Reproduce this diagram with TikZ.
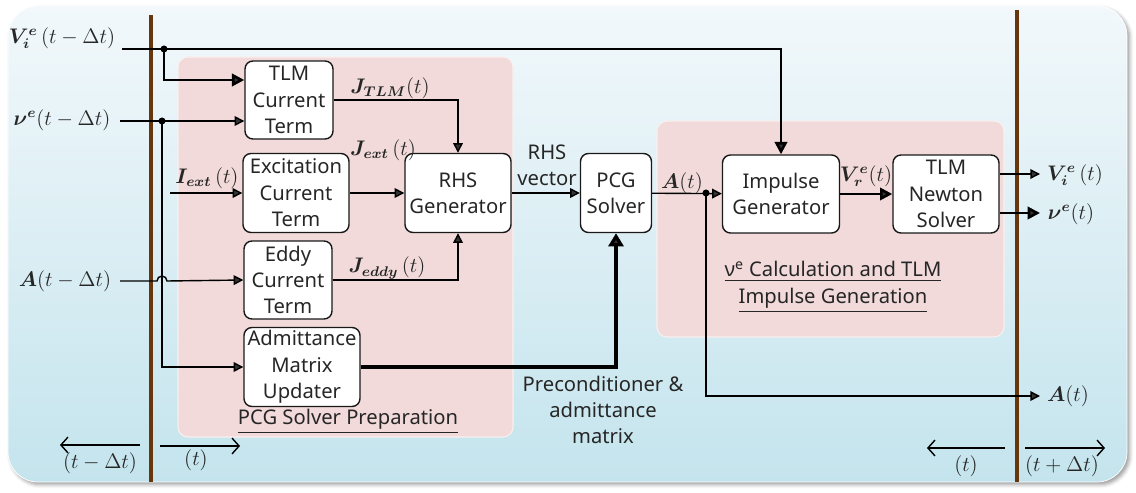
\documentclass[tikz,border=0pt]{standalone}
\usepackage{amsmath}
\usepackage{bm}
\usepackage[no-math]{fontspec}
\setmainfont{Noto Sans}
\usetikzlibrary{arrows.meta,shadows.blur}
\definecolor{bgtop}{RGB}{242,248,251}
\definecolor{bgmid}{RGB}{176,218,230}
\definecolor{bgbot}{RGB}{196,228,237}
\definecolor{grp}{RGB}{241,218,217}
\definecolor{axis}{RGB}{104,54,12}

\begin{document}
\begin{tikzpicture}[x=0.2mm, y=-0.2mm,
    every node/.style={font=\fontsize{11.5}{15}\selectfont, text=black!85},
    blk/.style={draw=black!90, line width=0.8pt, fill=white, rounded corners=1.6mm, align=center, inner sep=1pt},
    lbl/.style={inner sep=0.5pt},
    sig/.style={line width=0.8pt, -{Triangle[length=5.5pt,width=5.5pt]}},
    sigbold/.style={line width=1.5pt, -{Triangle[length=7pt,width=7pt]}},
    sigheavy/.style={line width=2.6pt, -{Triangle[length=7.5pt,width=8.5pt]}},
    timearr/.style={line width=0.8pt, {Straight Barb[length=4pt,width=9pt]}-},
    grpbox/.style={fill=grp, draw=white!60!grp, line width=0.6pt, rounded corners=2mm}]
  \useasboundingbox (0,0) rectangle (1136,493);
  \path[blur shadow={shadow xshift=1.5pt, shadow yshift=-1.5pt}, top color=bgtop, middle color=bgmid, bottom color=bgbot,
    draw=white, rounded corners=6mm] (8,6) rectangle (1127,482);
  \path[grpbox] (178,57) rectangle (513,437);
  \path[grpbox] (657,121) rectangle (1004,337);
  \draw[axis, line width=2.2pt] (151,15) -- (151,482);
  \draw[axis, line width=2.2pt] (1017,10) -- (1017,482);

  \node[blk, minimum width=17.6mm, minimum height=15.6mm] (tlm) at (289,100) {TLM\\Current\\Term};
  \node[blk, minimum width=21.2mm, minimum height=15.8mm] (exc) at (296,193) {Excitation\\Current\\Term};
  \node[blk, minimum width=17.6mm, minimum height=15.6mm] (eddy) at (288,280) {Eddy\\Current\\Term};
  \node[blk, minimum width=23.2mm, minimum height=15.8mm] (adm) at (302,367) {Admittance\\Matrix\\Updater};
  \node[blk, minimum width=21.2mm, minimum height=15.8mm] (rhs) at (458,193) {RHS\\Generator};
  \node[blk, minimum width=14.2mm, minimum height=15.8mm] (pcg) at (616,193) {PCG\\Solver};
  \node[blk, minimum width=23.4mm, minimum height=15.6mm] (imp) at (781,194) {Impulse\\Generator};
  \node[blk, minimum width=21.2mm, minimum height=15.6mm] (tln) at (946,194) {TLM\\Newton\\Solver};

  \node[lbl] (vi0) at (62,38) {$\bm{V}^{\bm{e}}_{\bm{i}}\,(t-\Delta t)$};
  \node[lbl] (nu0) at (62,120) {$\bm{\nu}^{\bm{e}}(t-\Delta t)$};
  \node[lbl] (a0) at (65,281) {$\bm{A}(t-\Delta t)$};
  \node[lbl] (iex) at (207,178) {$\bm{I_{ext}}\,(t)$};
  \node[lbl] (jtlm) at (390,88) {$\bm{J_{TLM}}(t)$};
  \node[lbl] (jext) at (383,150) {$\bm{J_{ext}}\,(t)$};
  \node[lbl] (jeddy) at (387,268) {$\bm{J_{eddy}}\,(t)$};
  \node[align=center] (rhsv) at (547,165) {RHS\\vector};
  \node[lbl] (at) at (682,183) {$\bm{A}(t)$};
  \node[lbl] (vr) at (866,176) {$\bm{V}^{\bm{e}}_{\bm{r}}(t)$};
  \node[lbl] (vi1) at (1075,175) {$\bm{V}^{\bm{e}}_{\bm{i}}\,(t)$};
  \node[lbl] (nu1) at (1071,214) {$\bm{\nu}^{\bm{e}}(t)$};
  \node[lbl] (a1) at (1068,396) {$\bm{A}(t)$};
  \node[align=center] (prec) at (603,410) {Preconditioner \&\\admittance\\matrix};
  \node (prep) at (348,421) {\underline{PCG Solver Preparation}};
  \node[align=center] (nucalc) at (833,287) {\underline{\textbf{ν}\textsuperscript{e} Calculation and TLM}\\\underline{Impulse Generation}};

  \coordinate (vi0s) at (122,49);
  \coordinate (vidot) at (164,49);
  \coordinate (nu0s) at (120,121);
  \coordinate (nudot) at (162,121);
  \coordinate (a0s) at (120,281);
  \coordinate (iexs) at (170,193);
  \coordinate (adot) at (706,193);
  \coordinate (viout) at (1040,174);
  \coordinate (nuout) at (1040,213);
  \coordinate (aout) at (1040,396);

  \draw[sigbold] (vi0s) -| (imp.north);
  \draw[sigbold] (vidot) |- ([yshift=4mm]tlm.west);
  \fill (vidot) circle (2pt);
  \draw[sig] (nu0s) -- (nu0s -| tlm.west);
  \draw[sig] (nudot) |- (adm.west);
  \fill (nudot) circle (2pt);
  \draw[sig] (iexs) -- (exc.west);
  \draw[sig] (a0s) -- ([xshift=-1mm]nudot |- a0s) arc[start angle=180, end angle=0, radius=1mm] -- (eddy.west);
  \draw[sig] (tlm.east) -| (rhs.north);
  \draw[sig] (exc) -- (rhs);
  \draw[sig] (eddy.east) -| (rhs.south);
  \draw[sig] (rhs) -- (pcg);
  \draw[sigheavy] (adm.east) -| (pcg.south);
  \draw[sig] (pcg) -- (imp);
  \draw[sig] (adot) |- (aout);
  \fill (adot) circle (2pt);
  \draw[sigbold] (imp) -- (tln);
  \draw[sig] (tln.east |- viout) -- (viout);
  \draw[sigbold] (tln.east |- nuout) -- (nuout);

  \coordinate (t1a) at (60,445);
  \coordinate (t1b) at (140,445);
  \coordinate (t2a) at (240,446);
  \coordinate (t2b) at (160,446);
  \coordinate (t3a) at (927,448);
  \coordinate (t3b) at (1005,448);
  \coordinate (t4a) at (1105,448);
  \coordinate (t4b) at (1025,448);
  \draw[timearr] (t1a) -- (t1b);
  \draw[timearr] (t2a) -- (t2b);
  \draw[timearr] (t3a) -- (t3b);
  \draw[timearr] (t4a) -- (t4b);
  \node[lbl] (tl1) at (100,463) {$(t-\Delta t)$};
  \node[lbl] (tl2) at (196,460) {$(t)$};
  \node[lbl] (tl3) at (966,466) {$(t)$};
  \node[lbl] (tl4) at (1062,466) {$(t+\Delta t)$};
\end{tikzpicture}
\end{document}
